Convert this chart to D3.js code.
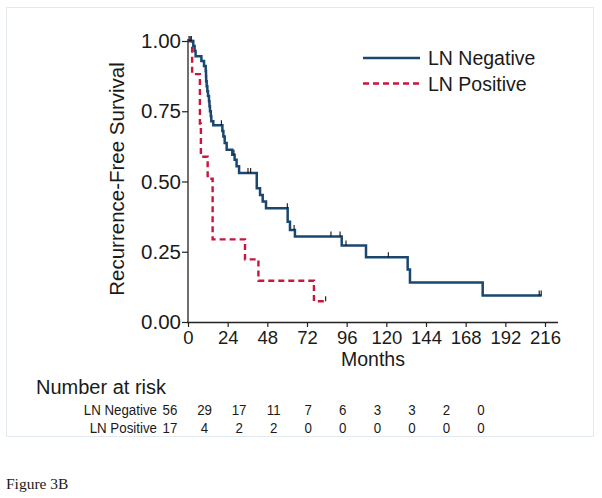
<!DOCTYPE html>
<html>
<head>
<meta charset="utf-8">
<script src="https://cdn.jsdelivr.net/npm/d3@7"></script>
<style>
  html, body { margin: 0; padding: 0; background: #fff; }
  svg { display: block; }
  text { font-family: "Liberation Sans", Arial, Helvetica, sans-serif; fill: #1a1a1a; }
</style>
</head>
<body>
<svg id="chart" width="602" height="498"></svg>
<script>
// ---- Data ----
const timeTicks = [0, 24, 48, 72, 96, 120, 144, 168, 192, 216];
const survTicks = [0, 0.25, 0.5, 0.75, 1.0];

const negTimes = [0, 3.2, 4.0, 4.6, 8.1, 9.7, 10.7, 10.9, 11.0, 11.3, 11.7, 12.1, 12.7, 13.0, 13.3, 13.8, 14.1, 15.3, 20.8, 21.4, 22.2, 23.4, 26.8, 28.2, 29.4, 30.9, 41.6, 43.6, 45.2, 47.2, 60.3, 61.7, 64.7, 93.0, 107.7, 132.9, 134.3, 178.3, 214];
const negSurv  = [1, 0.982, 0.964, 0.946, 0.929, 0.911, 0.893, 0.875, 0.857, 0.839, 0.821, 0.804, 0.786, 0.768, 0.75, 0.732, 0.714, 0.70, 0.68, 0.66, 0.637, 0.613, 0.595, 0.577, 0.554, 0.53, 0.476, 0.452, 0.429, 0.405, 0.357, 0.327, 0.304, 0.272, 0.23, 0.187, 0.141, 0.094, 0.094];
const negCensorT = [0.6, 1.3, 2.0, 20.2, 27.8, 36.3, 37.9, 60.1, 64.2, 86.5, 92.0, 95.6, 121.2, 212.5, 213.7];
const negCensorS = [1, 1, 1, 0.70, 0.595, 0.53, 0.53, 0.405, 0.327, 0.304, 0.304, 0.272, 0.23, 0.094, 0.094];

const posTimes = [0, 2.5, 7.2, 7.8, 11.9, 14.9, 34.5, 42.6, 76.2, 83.3];
const posSurv  = [1, 0.882, 0.706, 0.588, 0.51, 0.294, 0.223, 0.147, 0.074, 0.074];
const posCensorT = [83.3];
const posCensorS = [0.074];

const groups = ["LN Negative", "LN Positive"];
const riskNeg = [56, 29, 17, 11, 7, 6, 3, 3, 2, 0];
const riskPos = [17, 4, 2, 2, 0, 0, 0, 0, 0, 0];

// ---- Drawing ----
const svg = d3.select("#chart");
const navy = "#1a476f";
const red = "#c8163c";

// faint frame
svg.append("rect").attr("x", 6.5).attr("y", 7.5).attr("width", 587).attr("height", 429)
  .attr("fill", "none").attr("stroke", "#e3eaef").attr("stroke-width", 1);

const x = d3.scaleLinear().domain([0, 216]).range([188, 545]);
const y = d3.scaleLinear().domain([0, 1]).range([322, 41]);

// axes
const xAxis = d3.axisBottom(x).tickValues(timeTicks).tickSize(5).tickPadding(4).tickFormat(d3.format("d"));
const gx = svg.append("g").attr("transform", "translate(0,322)").call(xAxis);
gx.select(".domain").remove();
gx.append("line").attr("x1", 187).attr("x2", 558).attr("y1", 0.5).attr("y2", 0.5).attr("stroke", "#222").attr("stroke-width", 1.3);
gx.selectAll(".tick line").attr("stroke", "#222").attr("stroke-width", 1.2);
gx.selectAll(".tick text").attr("font-size", 18.5).attr("fill", "#1a1a1a")
  .attr("font-family", "'Liberation Sans', Arial, sans-serif");

const yAxis = d3.axisLeft(y).tickValues(survTicks).tickSize(6).tickPadding(1).tickFormat(d3.format(".2f"));
const gy = svg.append("g").attr("transform", "translate(188,0)").call(yAxis);
gy.select(".domain").remove();
gy.append("line").attr("x1", 0).attr("x2", 0).attr("y1", 39).attr("y2", 323).attr("stroke", "#222").attr("stroke-width", 1.3);
gy.selectAll(".tick line").attr("stroke", "#222").attr("stroke-width", 1.2);
gy.selectAll(".tick text").attr("font-size", 20.5).attr("fill", "#1a1a1a")
  .attr("font-family", "'Liberation Sans', Arial, sans-serif");

// axis titles
svg.append("text").attr("x", 373).attr("y", 366).attr("text-anchor", "middle")
  .attr("font-size", 19.5).text("Months");
svg.append("text").attr("transform", "translate(124,179) rotate(-90)").attr("text-anchor", "middle")
  .attr("font-size", 20.5).text("Recurrence-Free Survival");

// curves
const line = d3.line().x(d => x(d[0])).y(d => y(d[1])).curve(d3.curveStepAfter);
const negData = negTimes.map((t, i) => [t, negSurv[i]]);
const posData = posTimes.map((t, i) => [t, posSurv[i]]);

svg.append("path").datum(posData).attr("d", line).attr("fill", "none")
  .attr("stroke", red).attr("stroke-width", 2.4).attr("stroke-dasharray", "6,4");
svg.append("path").datum(negData).attr("d", line).attr("fill", "none")
  .attr("stroke", navy).attr("stroke-width", 2.5);

// censor marks
function censor(ts, ss) {
  svg.append("g").selectAll("line").data(ts.map((t, i) => [t, ss[i]])).join("line")
    .attr("x1", d => x(d[0])).attr("x2", d => x(d[0]))
    .attr("y1", d => y(d[1])).attr("y2", d => y(d[1]) - 5)
    .attr("stroke", "#111").attr("stroke-width", 1.1);
}
censor(negCensorT, negCensorS);
censor(posCensorT, posCensorS);

// legend
const lg = svg.append("g");
lg.append("line").attr("x1", 363).attr("x2", 420).attr("y1", 58).attr("y2", 58)
  .attr("stroke", navy).attr("stroke-width", 2.5);
lg.append("text").attr("x", 428).attr("y", 65).attr("font-size", 19.5).text(groups[0]);
lg.append("line").attr("x1", 363).attr("x2", 420).attr("y1", 83.5).attr("y2", 83.5)
  .attr("stroke", red).attr("stroke-width", 2.4).attr("stroke-dasharray", "6,4");
lg.append("text").attr("x", 428).attr("y", 91).attr("font-size", 19.5).text(groups[1]);

// risk table
const rx = d3.scaleLinear().domain([0, 216]).range([170, 481]);
svg.append("text").attr("x", 36).attr("y", 394).attr("font-size", 20).text("Number at risk");
const rows = [[groups[0], riskNeg, 415], [groups[1], riskPos, 433]];
const sx = 0.86;
rows.forEach(([label, vals, yy]) => {
  svg.append("text").attr("transform", `translate(157,${yy}) scale(${sx},1)`)
    .attr("text-anchor", "end").attr("font-size", 15.5).text(label);
  svg.append("g").selectAll("text").data(vals).join("text")
    .attr("transform", (d, i) => `translate(${rx(timeTicks[i])},${yy}) scale(${sx},1)`)
    .attr("text-anchor", "middle").attr("font-size", 15.5).text(d => d);
});

// caption
svg.append("text").attr("x", 6).attr("y", 489).attr("font-size", 15.5)
  .style("font-family", "'Liberation Serif', 'Times New Roman', serif")
  .text("Figure 3B");
</script>
</body>
</html>
